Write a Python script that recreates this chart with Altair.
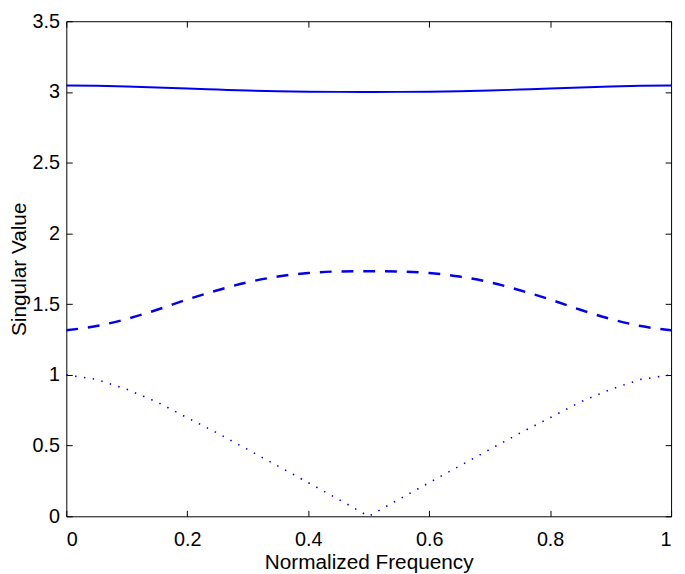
import altair as alt
import pandas as pd

freq = [0.0, 0.05, 0.1, 0.15, 0.2, 0.25, 0.3, 0.35, 0.4, 0.45, 0.5,
        0.55, 0.6, 0.65, 0.7, 0.75, 0.8, 0.85, 0.9, 0.95, 1.0]
sv1 = [3.046, 3.044, 3.039, 3.032, 3.024, 3.017, 3.010, 3.005, 3.002, 3.0005, 3.0,
       3.0005, 3.002, 3.005, 3.010, 3.017, 3.024, 3.032, 3.039, 3.044, 3.046]
sv2 = [1.315, 1.345, 1.395, 1.46, 1.533, 1.598, 1.655, 1.695, 1.72, 1.731, 1.733,
       1.731, 1.72, 1.695, 1.655, 1.598, 1.533, 1.46, 1.395, 1.345, 1.315]
sv3 = [1.0, 0.968, 0.898, 0.808, 0.697, 0.588, 0.472, 0.355, 0.238, 0.12, 0.0,
       0.12, 0.238, 0.355, 0.472, 0.588, 0.697, 0.808, 0.898, 0.968, 1.0]

x_ticks = [0, 0.2, 0.4, 0.6, 0.8, 1]
y_ticks = [0, 0.5, 1, 1.5, 2, 2.5, 3, 3.5]

TOP = 10
W, H = 612, 519 - 8 - TOP
FONT = "Liberation Sans"
BLUE = "#0000ee"

df = pd.DataFrame({"f": freq, "s1": sv1, "s2": sv2, "s3": sv3})

xs = alt.Scale(domain=[0, 1], nice=False)
ys = alt.Scale(domain=[0, 3.5], nice=False)

base = alt.Chart(df)

# Layer 1: solid, with labelled axes (left / bottom)
l1 = base.mark_line(color=BLUE, strokeWidth=2, interpolate="monotone").encode(
    x=alt.X("f:Q", scale=xs, axis=alt.Axis(
        orient="bottom", values=x_ticks, format="~g", ticks=False, tickSize=0,
        domain=False, grid=False, labelFontSize=20, labelFont=FONT, labelColor="black",
        labelPadding=14, title="Normalized Frequency", titleFont=FONT,
        titleFontSize=21, titleFontWeight="normal", titleColor="black", titlePadding=2)),
    y=alt.Y("s1:Q", scale=ys, axis=alt.Axis(
        orient="left", values=y_ticks, format="~g", ticks=False, tickSize=0,
        domain=False, grid=False, labelFontSize=20, labelFont=FONT, labelColor="black",
        labelPadding=7, title="Singular Value", titleFont=FONT,
        titleFontSize=21, titleFontWeight="normal", titleColor="black", titlePadding=2)),
)

# Layer 2: dashed, inward ticks on left edge and bottom edge
l2 = base.mark_line(color=BLUE, strokeWidth=2.5, strokeDash=[12, 10],
                    interpolate="monotone").encode(
    x=alt.X("f:Q", scale=xs, axis=alt.Axis(
        orient="top", offset=-H, values=x_ticks, labels=False, ticks=True, tickSize=6,
        tickColor="black", domain=False, grid=False, title=None)),
    y=alt.Y("s2:Q", scale=ys, axis=alt.Axis(
        orient="right", offset=-W, values=y_ticks, labels=False, ticks=True, tickSize=6,
        tickColor="black", domain=False, grid=False, title=None)),
)

# Layer 3: dotted, inward ticks on right edge and top edge
l3 = base.mark_line(color=BLUE, strokeWidth=1.6, strokeDash=[1.5, 7.5]).encode(
    x=alt.X("f:Q", scale=xs, axis=alt.Axis(
        orient="bottom", offset=-H, values=x_ticks, labels=False, ticks=True, tickSize=6,
        tickColor="black", domain=False, grid=False, title=None)),
    y=alt.Y("s3:Q", scale=ys, axis=alt.Axis(
        orient="left", offset=-W, values=y_ticks, labels=False, ticks=True, tickSize=6,
        tickColor="black", domain=False, grid=False, title=None)),
)

chart = alt.layer(l1, l2, l3).resolve_axis(x="independent", y="independent").properties(
    width=W, height=H,
    autosize=alt.AutoSizeParams(type="none"),
    padding={"left": 59, "top": TOP, "right": 6, "bottom": 55},
    background="white",
).configure_view(stroke="black", strokeWidth=1)

chart.save("out.html", embed_options={"renderer": "svg", "actions": False})
